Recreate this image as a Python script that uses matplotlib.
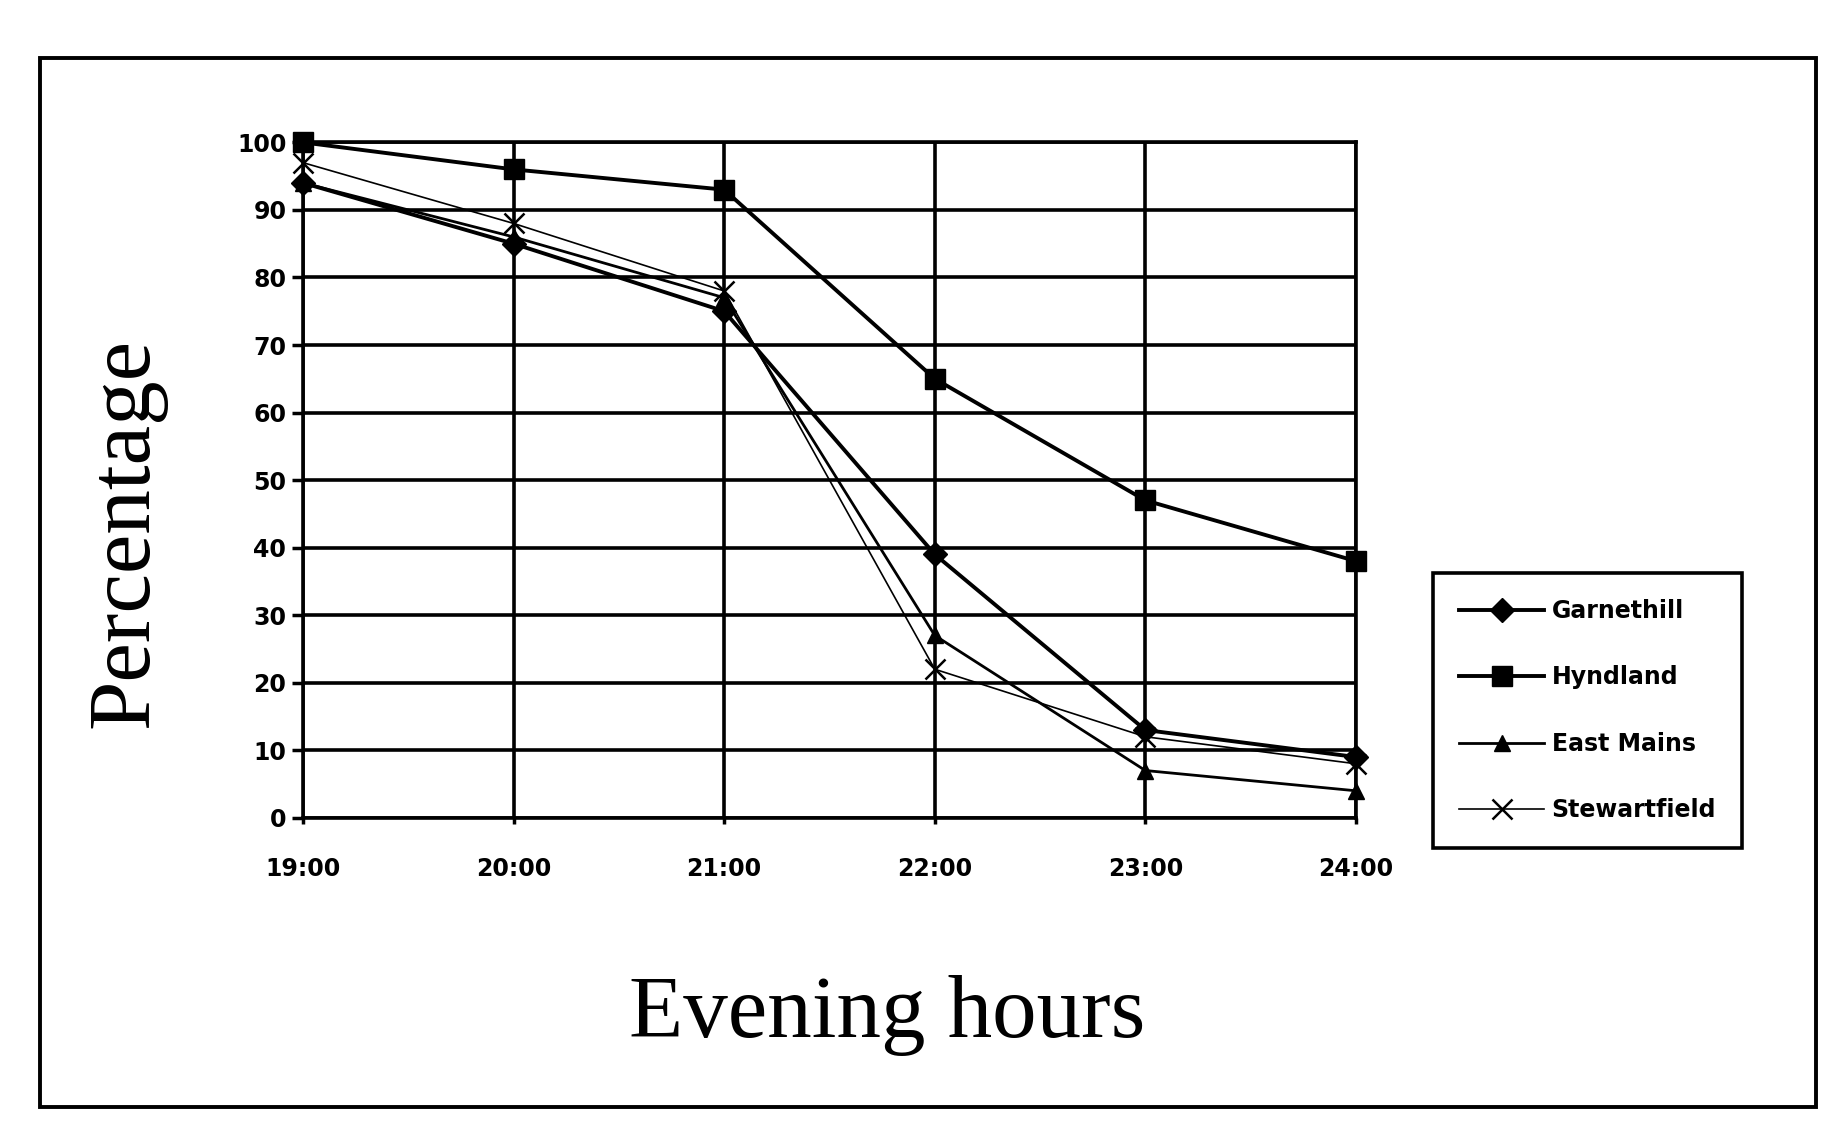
import numpy as np
import matplotlib
matplotlib.use("Agg")
import matplotlib.pyplot as plt
from matplotlib.patches import Rectangle

# values
hours = ["19:00", "20:00", "21:00", "22:00", "23:00", "24:00"]
garnethill = [94, 85, 75, 39, 13, 9]
hyndland = [100, 96, 93, 65, 47, 38]
east_mains = [94, 86, 77, 27, 7, 4]
stewartfield = [97, 88, 78, 22, 12, 8]
yticks = [0, 10, 20, 30, 40, 50, 60, 70, 80, 90, 100]

plt.rcParams["font.family"] = "DejaVu Sans"
plt.rcParams["font.weight"] = "bold"

fig = plt.figure(figsize=(18.25, 11.39), dpi=100)
ax = fig.add_axes([0.166, 0.282, 0.577, 0.593])

x = np.arange(len(hours))
ax.plot(x, garnethill, color="black", lw=2.8, marker="D", ms=12,
        label="Garnethill", clip_on=False, zorder=5)
ax.plot(x, hyndland, color="black", lw=2.8, marker="s", ms=15,
        label="Hyndland", clip_on=False, zorder=5)
ax.plot(x, east_mains, color="black", lw=2.0, marker="^", ms=12,
        label="East Mains", clip_on=False, zorder=5)
ax.plot(x, stewartfield, color="black", lw=1.2, marker="x", ms=14, mew=1.8,
        label="Stewartfield", clip_on=False, zorder=5)

ax.set_xlim(0, 5)
ax.set_ylim(0, 100)
ax.set_xticks(x)
ax.set_xticklabels(hours, fontsize=17, fontweight="bold")
ax.set_yticks(yticks)
ax.set_yticklabels([str(t) for t in yticks], fontsize=17, fontweight="bold")
ax.tick_params(axis="y", direction="out", length=8, width=2.5, pad=4)
ax.tick_params(axis="x", direction="out", length=4, width=2.5, pad=24)
ax.grid(True, color="black", lw=2.6)
for sp in ax.spines.values():
    sp.set_linewidth(2.6)
    sp.set_color("black")

leg = fig.legend(loc="center", bbox_to_anchor=(0.870, 0.376), fontsize=17,
                 handlelength=3.6, labelspacing=1.8, borderpad=1.1,
                 handletextpad=0.3, fancybox=False, framealpha=1)
leg.get_frame().set_edgecolor("black")
leg.get_frame().set_linewidth(2.6)
for t in leg.get_texts():
    t.set_fontweight("bold")

fig.text(0.069, 0.532, "Percentage", rotation=90, ha="center", va="center",
         fontsize=64, family="Liberation Serif", fontweight="normal")
fig.text(0.486, 0.108, "Evening hours", ha="center", va="center",
         fontsize=64, family="Liberation Serif", fontweight="normal")

fig.patches.append(Rectangle((0.022, 0.028), 0.973, 0.921, transform=fig.transFigure,
                             fill=False, edgecolor="black", lw=2.8))

plt.savefig("out.png", dpi=100)
